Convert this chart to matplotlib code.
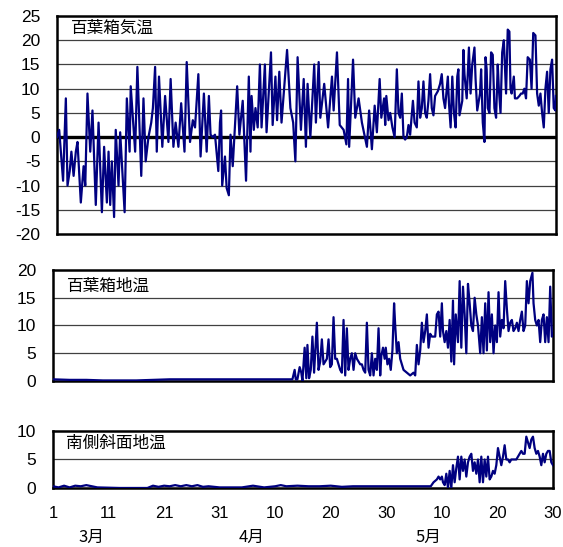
import matplotlib
matplotlib.use("Agg")
from matplotlib import pyplot as plt
from matplotlib.transforms import blended_transform_factory

plt.rcParams["font.family"] = ["Liberation Sans", "Noto Sans CJK JP"]

# days counted from 1 March (0) to 30 May (90)
air_day = [0.0, 0.4, 1.1, 1.6, 1.9, 2.3, 2.6, 3.0, 3.4, 3.7,
           4.3, 4.8, 5.1, 5.5, 6.0, 6.4, 7.0, 7.5, 8.1, 8.5,
           9.0, 9.3, 9.6, 9.9, 10.3, 10.6, 11.1, 11.4, 12.2, 12.6,
           13.1, 13.3, 14.1, 14.5, 15.2, 15.6, 16.0, 16.5, 17.0, 17.3,
           17.7, 18.0, 18.4, 19.0, 19.5, 20.1, 20.5, 21.0, 21.4, 21.9,
           22.4, 23.0, 23.4, 24.0, 24.5, 24.9, 25.5, 25.9, 26.5, 27.0,
           27.4, 27.7, 28.1, 28.5, 29.1, 29.4, 29.6, 29.8, 30.3, 30.6,
           31.0, 31.3, 31.7, 32.5, 32.9, 33.5, 34.1, 34.6, 34.9, 35.1,
           35.5, 35.8, 36.2, 36.6, 36.9, 37.5, 37.8, 38.6, 38.9, 39.4,
           39.7, 40.1, 40.5, 41.5, 42.1, 42.6, 43.0, 43.4, 44.0, 44.5,
           44.9, 45.2, 45.7, 46.4, 46.7, 47.2, 47.5, 48.2, 48.9, 49.6,
           49.9, 50.5, 51.0, 51.7, 52.2, 52.5, 52.7, 53.4, 53.8, 54.4,
           55.0, 55.9, 56.3, 56.8, 57.3, 57.7, 58.2, 58.5, 59.0, 59.2,
           59.4, 59.8, 60.1, 60.5, 60.9, 61.3, 61.6, 61.9, 62.2, 62.5,
           62.8, 63.1, 63.4, 63.7, 64.2, 64.5, 64.9, 65.2, 65.5, 65.8,
           66.1, 66.4, 66.7, 67.0, 67.3, 67.6, 67.9, 68.2, 68.7, 69.1,
           69.4, 69.7, 70.0, 70.5, 70.7, 71.0, 71.3, 71.6, 71.9, 72.2,
           72.4, 72.6, 73.1, 73.3, 73.5, 73.9, 74.3, 74.6, 74.9, 75.3,
           75.5, 75.8, 76.3, 76.5, 76.8, 77.1, 77.3, 77.5, 77.7, 78.0,
           78.3, 78.6, 78.9, 79.2, 79.5, 79.7, 80.0, 80.3, 80.6, 81.0,
           81.3, 81.6, 81.8, 82.0, 82.4, 82.6, 83.0, 83.4, 83.7, 84.0,
           84.3, 84.6, 84.9, 85.3, 85.6, 85.9, 86.3, 86.6, 86.9, 87.2,
           87.5, 87.8, 88.1, 88.4, 88.7, 89.0, 89.3, 89.6, 89.9, 90.0]
air_temp = [0, 1.5, -9, 8, -10, -7, -3, -8, -3, -1,
            -13.5, -6, -10, 9, -3, 5.5, -14, 3, -15.5, -2,
            -13.5, -3, -14, -5, -16.5, 1.5, -10, 1, -15.5, 8,
            -3, 10.5, -3, 14.5, -8, 8, -5, 0, 3, 6,
            14.5, -3, 12.5, -2, 8.5, -1, 12, -2, 3, -2,
            7, -3, 15.5, -1, 3.5, 2, 13, -4, 9, -3,
            8.5, 0.5, 0, 0.5, -7, 3, 5.5, -10, -4, -10.5,
            -12, 0.5, -6, 10.5, 0.5, 7.5, -9, 12.5, -3, 8.5,
            1.5, 6, 2, 15, 2, 15, 1, 17.5, 2.5, 12.5,
            3.5, 13.5, 3, 18, 6, 3, -5, 16.5, 1.5, 12,
            -2, 11, 0, 15, 3, 15.5, 4, 11, 2, 12.5,
            5.5, 17.5, 2.5, 1.5, -1.5, 12, -2, 16, 4, 8,
            3, -2, 5.5, -2.5, 6.5, 1, 12, 4, 8, 2.5,
            8.5, 3.5, 5, 2, 0, 14, 5, 4, 9, 0,
            -0.5, 0, 2.5, 0.5, 7.5, 3, 2, 11.5, 4, 6,
            11.5, 5, 4, 7.5, 13, 6, 4.5, 8.5, 9.5, 11,
            13, 8, 6, 12.5, 7, 2, 12.5, 5, 2, 12.5,
            14, 4.5, 7.5, 18, 13, 8, 18.5, 9, 15, 18.5,
            12, 5.5, 9, 14, 3, -1, 16.5, 14, 6, 5,
            17.5, 17, 6, 4, 15, 10, 5, 17.5, 20, 9,
            22.2, 21.8, 10, 9, 12.5, 8, 8, 8.5, 9, 9,
            10, 8, 16.5, 16, 10, 21.5, 21, 9, 6.5, 9,
            5, 2, 10, 13.5, 5, 14, 16, 6, 5.5, 8.5]

box_day = [0, 3, 6, 9, 12, 15, 18, 21, 24, 27,
           30, 33, 36, 39, 42, 43.1, 43.5, 43.7, 44.0, 44.4,
           44.7, 44.9, 45.3, 45.6, 45.8, 46.1, 46.4, 46.7, 47.0, 47.3,
           47.5, 47.8, 48.1, 48.4, 48.7, 49.0, 49.3, 49.6, 49.9, 50.2,
           50.5, 50.8, 51.1, 51.4, 51.7, 52.0, 52.3, 52.6, 52.9, 53.2,
           53.5, 53.8, 54.1, 54.4, 54.7, 55.0, 55.3, 55.6, 55.9, 56.2,
           56.5, 56.8, 57.1, 57.4, 57.7, 58.0, 58.3, 58.6, 58.9, 59.1,
           59.4, 59.7, 59.9, 60.2, 60.5, 60.8, 61.1, 61.4, 61.6, 61.9,
           62.2, 62.5, 62.8, 63.1, 63.7, 64.3, 64.9, 65.2, 65.5, 65.8,
           66.1, 66.4, 66.7, 67.0, 67.3, 67.6, 67.9, 68.2, 68.5, 68.8,
           69.1, 69.4, 69.7, 70.0, 70.2, 70.5, 70.8, 71.1, 71.4, 71.7,
           72.0, 72.2, 72.5, 72.9, 73.2, 73.5, 73.8, 74.1, 74.4, 74.7,
           75.0, 75.3, 75.6, 75.9, 76.2, 76.5, 76.9, 77.2, 77.5, 77.8,
           78.1, 78.4, 78.7, 79.0, 79.3, 79.6, 79.9, 80.2, 80.5, 80.8,
           81.1, 81.4, 81.7, 82.0, 82.3, 82.6, 82.9, 83.2, 83.5, 83.8,
           84.1, 84.4, 84.7, 85.0, 85.3, 85.6, 85.9, 86.3, 86.5, 86.8,
           87.1, 87.4, 87.7, 88.0, 88.3, 88.6, 88.9, 89.2, 89.5, 89.8,
           90.0]
box_temp = [0.3, 0.2, 0.2, 0.1, 0.1, 0.1, 0.2, 0.3, 0.3, 0.3,
            0.3, 0.3, 0.3, 0.3, 0.3, 0.3, 2, 0.3, 0.3, 2.5,
            1.5, 0, 6, 0.5, 6.5, 0.5, 2, 8, 1.5, 7,
            10.5, 2, 3.5, 7.5, 3, 3.5, 4, 7.5, 2.5, 3,
            11.5, 4, 4, 3, 2, 1.5, 11, 1, 9.5, 2,
            4, 5, 2, 5, 4, 3.5, 3, 3, 2, 1.5,
            10.5, 2, 1, 5, 1, 4, 2, 9.5, 1, 4.5,
            6, 4, 6, 3, 4, 2, 5.5, 14, 10, 5,
            7, 4, 3, 2, 1.5, 1, 1.5, 1, 6.5, 3,
            5.5, 10.5, 7, 9, 12, 6, 8.5, 8, 8, 8,
            12, 12.5, 8, 14, 9, 7, 9, 6, 11, 3.5,
            14.5, 3, 12, 7, 18, 6, 17, 12, 5, 17.5,
            14, 10, 9, 15, 12, 10, 5, 11.5, 5, 14,
            5.5, 16, 7, 12, 5, 10, 7, 16, 8, 11,
            9.5, 18, 13, 9, 10.5, 11, 9, 9.5, 10.5, 9,
            11, 12.5, 9, 10, 18, 14, 18, 19.5, 14, 11,
            10, 11, 7, 11, 12, 7, 11.5, 7, 17, 8,
            8.5]

slope_day = [0, 1, 2, 3, 4, 5, 6, 7, 8, 12,
             17, 18, 19, 20, 21, 22, 23, 24, 25, 26,
             27, 28, 30, 34, 36, 38, 40, 41, 42, 44,
             46, 48, 50, 52, 54, 56, 58, 60, 62, 64,
             66, 68, 68.5, 69.1, 69.4, 69.7, 70.0, 70.2, 70.5, 70.8,
             71.1, 71.4, 71.7, 72.0, 72.3, 72.6, 72.9, 73.2, 73.5, 73.8,
             74.1, 74.4, 74.7, 75.0, 75.3, 75.6, 75.9, 76.2, 76.5, 76.8,
             77.1, 77.4, 77.7, 78.0, 78.3, 78.6, 78.9, 79.2, 79.5, 79.8,
             80.1, 80.4, 80.7, 81.0, 81.3, 81.6, 81.9, 82.2, 82.5, 82.8,
             83.1, 83.4, 83.7, 84.0, 84.3, 84.6, 84.9, 85.2, 85.5, 85.8,
             86.1, 86.4, 86.7, 87.0, 87.3, 87.6, 87.9, 88.2, 88.5, 88.8,
             89.1, 89.4, 89.7, 90.0]
slope_temp = [0.3, 0.1, 0.4, 0.1, 0.4, 0.3, 0.5, 0.3, 0.1, 0,
              0, 0.4, 0.2, 0.4, 0.3, 0.5, 0.3, 0.5, 0.3, 0.5,
              0.2, 0.3, 0.1, 0.1, 0.4, 0.1, 0.3, 0.5, 0.3, 0.4,
              0.3, 0.3, 0.4, 0.2, 0.3, 0.3, 0.3, 0.3, 0.3, 0.3,
              0.3, 0.3, 1, 1.5, 2, 1.5, 2, 1, 0.5, 2.5,
              0, 3, 0, 4, 1, 3.5, 5.5, 1.5, 5.5, 3,
              5, 2, 4.5, 5.5, 6, 3, 4.5, 2.5, 5, 1,
              5.5, 1, 5, 2, 5.5, 1.5, 2, 3, 2.5, 4,
              7, 5.5, 4, 5.5, 7.5, 5, 5, 4.5, 5, 5,
              5, 5, 5.5, 6, 6.5, 6, 6, 9, 8, 7,
              8.5, 9, 7, 6, 6.5, 5.5, 4, 6, 4.5, 6,
              6.5, 6.5, 4.5, 4]

tick_days = [0, 10, 20, 30, 40, 50, 60, 70, 80, 90]
tick_labels = ["1", "11", "21", "31", "10", "20", "30", "10", "20", "30"]
month_days = [7.0, 35.7, 67.6]
month_labels = ["3月", "4月", "5月"]

line_color = "#000080"
jp_font = ["Noto Sans CJK JP", "DejaVu Sans"]

fig = plt.figure(figsize=(5.63, 5.47), dpi=100)
ax_air = fig.add_axes([0.1012, 0.5722, 0.8863, 0.3985])
ax_box = fig.add_axes([0.0941, 0.3035, 0.8881, 0.2029])
ax_slope = fig.add_axes([0.0941, 0.1079, 0.8881, 0.1042])


def style_panel(ax, ylim, yticks, title, title_y):
    ax.set_xlim(0, 90)
    ax.set_ylim(*ylim)
    ax.set_yticks(yticks)
    ax.set_yticklabels([str(t) if t >= 0 else "-" + str(-t) for t in yticks], fontsize=12.5)
    ax.tick_params(axis="y", length=0, pad=12)
    ax.set_xticks(tick_days)
    ax.tick_params(axis="x", length=0, labelbottom=False)
    ax.grid(False)
    for t in yticks[1:-1]:
        ax.axhline(t, color="#404040", lw=0.9, zorder=1)
    for s in ax.spines.values():
        s.set_linewidth(1.8)
        s.set_color("black")
        s.set_zorder(2)
    ax.text(0.027, title_y, title, transform=ax.transAxes, fontsize=12,
            family=jp_font, va="center", ha="left")


style_panel(ax_air, (-20, 25), list(range(-20, 26, 5)), "百葉箱気温", 0.945)
ax_air.axhline(0, color="black", lw=2.4, zorder=1.5)
ax_air.plot(air_day, air_temp, color=line_color, lw=1.6, zorder=3)

style_panel(ax_box, (0, 20), [0, 5, 10, 15, 20], "百葉箱地温", 0.85)
ax_box.plot(box_day, box_temp, color=line_color, lw=1.6, zorder=3)

style_panel(ax_slope, (0, 10), [0, 5, 10], "南側斜面地温", 0.79)
ax_slope.plot(slope_day, slope_temp, color=line_color, lw=1.6, zorder=3)

ax_slope.tick_params(axis="x", labelbottom=True, pad=13, labelsize=12)
ax_slope.set_xticklabels(tick_labels)

trans = blended_transform_factory(ax_slope.transData, fig.transFigure)
for d, m in zip(month_days, month_labels):
    ax_slope.text(d, 0.018, m, transform=trans, ha="center", va="center",
                  fontsize=12, family=jp_font)

fig.savefig("out.png", dpi=100)
